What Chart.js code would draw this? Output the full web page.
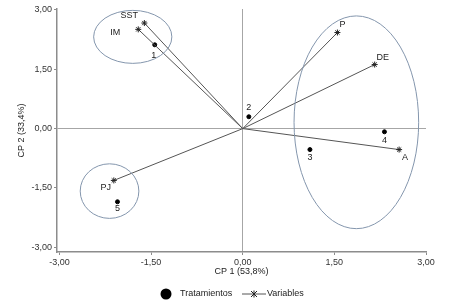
<!DOCTYPE html>
<html>
<head>
<meta charset="utf-8">
<script src="https://cdn.jsdelivr.net/npm/chart.js@4.4.1/dist/chart.umd.min.js"></script>
<style>
  html, body { margin: 0; padding: 0; background: #fff; }
</style>
</head>
<body>
<canvas id="biplot" width="450" height="308"></canvas>
<script>
// Variables (vectores desde el origen)
const variableNames = ['SST', 'IM', 'P', 'DE', 'A', 'PJ'];
const variableX = [-1.61, -1.71, 1.55, 2.16, 2.56, -2.11];
const variableY = [2.67, 2.51, 2.43, 1.62, -0.53, -1.31];

// Tratamientos
const treatmentNames = ['1', '2', '3', '4', '5'];
const treatmentX = [-1.44, 0.10, 1.10, 2.32, -2.05];
const treatmentY = [2.12, 0.30, -0.53, -0.08, -1.85];

// Agrupaciones (elipses, en unidades de los ejes)
const groupCx = [-1.80, 1.86, -2.18];
const groupCy = [2.32, 0.16, -1.58];
const groupRx = [0.64, 1.02, 0.48];
const groupRy = [0.67, 2.69, 0.69];

const tickValues = [-3, -1.5, 0, 1.5, 3];

const FONT = 'Liberation Sans, Arial, sans-serif';

// desplazamiento de etiquetas en px (solo presentación)
const variableLabelOffset = { SST: [-15, -8], IM: [-23, 3], P: [5, -8], DE: [8, -7], A: [6, 8], PJ: [-8, 7] };
const treatmentLabelOffset = { '1': [-1, 11], '2': [0, -9], '3': [0, 8], '4': [0, 9], '5': [0, 7] };

const datasets = variableNames.map((name, i) => ({
  label: name,
  data: [{ x: 0, y: 0 }, { x: variableX[i], y: variableY[i] }],
  showLine: true,
  borderColor: '#555',
  borderWidth: 1,
  pointRadius: [0, 3],
  pointStyle: 'star',
  pointBorderColor: '#222',
  pointBorderWidth: 1,
  pointBackgroundColor: '#222'
}));

datasets.push({
  label: 'Tratamientos',
  data: treatmentX.map((x, i) => ({ x: x, y: treatmentY[i] })),
  showLine: false,
  pointRadius: 2,
  pointStyle: 'circle',
  pointBackgroundColor: '#000',
  pointBorderColor: '#000'
});

const fmt = v => Number(v).toFixed(2).replace('.', ',');

const extras = {
  id: 'extras',
  afterDatasetsDraw(chart) {
    const { ctx, scales: { x, y } } = chart;
    ctx.save();
    // elipses
    ctx.strokeStyle = '#8496ad';
    ctx.lineWidth = 1;
    groupCx.forEach((cx, i) => {
      const px = x.getPixelForValue(cx);
      const py = y.getPixelForValue(groupCy[i]);
      const rx = Math.abs(x.getPixelForValue(cx + groupRx[i]) - px);
      const ry = Math.abs(y.getPixelForValue(groupCy[i] + groupRy[i]) - py);
      ctx.beginPath();
      ctx.ellipse(px, py, rx, ry, 0, 0, Math.PI * 2);
      ctx.stroke();
    });
    // etiquetas
    ctx.fillStyle = '#222';
    ctx.font = '9px ' + FONT;
    ctx.textAlign = 'center';
    ctx.textBaseline = 'middle';
    variableNames.forEach((name, i) => {
      const o = variableLabelOffset[name];
      ctx.fillText(name, x.getPixelForValue(variableX[i]) + o[0], y.getPixelForValue(variableY[i]) + o[1]);
    });
    treatmentNames.forEach((name, i) => {
      const o = treatmentLabelOffset[name];
      ctx.fillText(name, x.getPixelForValue(treatmentX[i]) + o[0], y.getPixelForValue(treatmentY[i]) + o[1]);
    });
    ctx.restore();
  },
  afterDraw(chart) {
    // leyenda
    const ctx = chart.ctx;
    const ly = 294;
    ctx.save();
    ctx.fillStyle = '#000';
    ctx.beginPath();
    ctx.arc(166, ly, 5.5, 0, Math.PI * 2);
    ctx.fill();
    ctx.font = '9px ' + FONT;
    ctx.fillStyle = '#222';
    ctx.textBaseline = 'middle';
    ctx.textAlign = 'left';
    ctx.fillText('Tratamientos', 180, ly);
    ctx.strokeStyle = '#555';
    ctx.lineWidth = 1;
    ctx.beginPath();
    ctx.moveTo(242, ly);
    ctx.lineTo(266, ly);
    ctx.stroke();
    ctx.strokeStyle = '#222';
    ctx.beginPath();
    ctx.moveTo(251, ly - 3); ctx.lineTo(257, ly + 3);
    ctx.moveTo(257, ly - 3); ctx.lineTo(251, ly + 3);
    ctx.moveTo(254, ly - 3.5); ctx.lineTo(254, ly + 3.5);
    ctx.stroke();
    ctx.fillText('Variables', 267, ly);
    ctx.restore();
  }
};

const gridColor = c => (c.tick && c.tick.value === 0) ? '#a6a6a6' : 'rgba(0,0,0,0)';

new Chart(document.getElementById('biplot'), {
  type: 'scatter',
  data: { datasets: datasets },
  options: {
    responsive: false,
    animation: false,
    layout: { padding: { left: 10, right: 24, top: 9, bottom: 26 } },
    plugins: { legend: { display: false }, tooltip: { enabled: false } },
    scales: {
      x: {
        type: 'linear',
        min: -3.04,
        max: 3,
        afterBuildTicks: s => { s.ticks = tickValues.map(v => ({ value: v })); },
        afterFit: s => { s.height = 30; },
        ticks: { callback: fmt, color: '#333', font: { size: 9, family: FONT }, padding: 2, maxRotation: 0, autoSkip: false },
        grid: { color: gridColor, tickColor: '#8c8c8c', tickLength: 3, lineWidth: 1 },
        border: { color: '#8c8c8c', width: 1.5 },
        title: { display: true, text: 'CP 1 (53,8%)', color: '#222', font: { size: 9, family: FONT }, padding: { top: 0, bottom: 5 } }
      },
      y: {
        type: 'linear',
        min: -3.12,
        max: 3.025,
        afterBuildTicks: s => { s.ticks = tickValues.map(v => ({ value: v })); },
        afterFit: s => { s.width = 47; },
        ticks: { callback: fmt, color: '#333', font: { size: 9, family: FONT }, padding: 2, autoSkip: false },
        grid: { color: gridColor, tickColor: '#8c8c8c', tickLength: 3, lineWidth: 1 },
        border: { color: '#8c8c8c', width: 1.5 },
        title: { display: true, text: 'CP 2 (33,4%)', color: '#222', font: { size: 9, family: FONT }, padding: { top: 6, bottom: 0 } }
      }
    }
  },
  plugins: [extras]
});
</script>
</body>
</html>
